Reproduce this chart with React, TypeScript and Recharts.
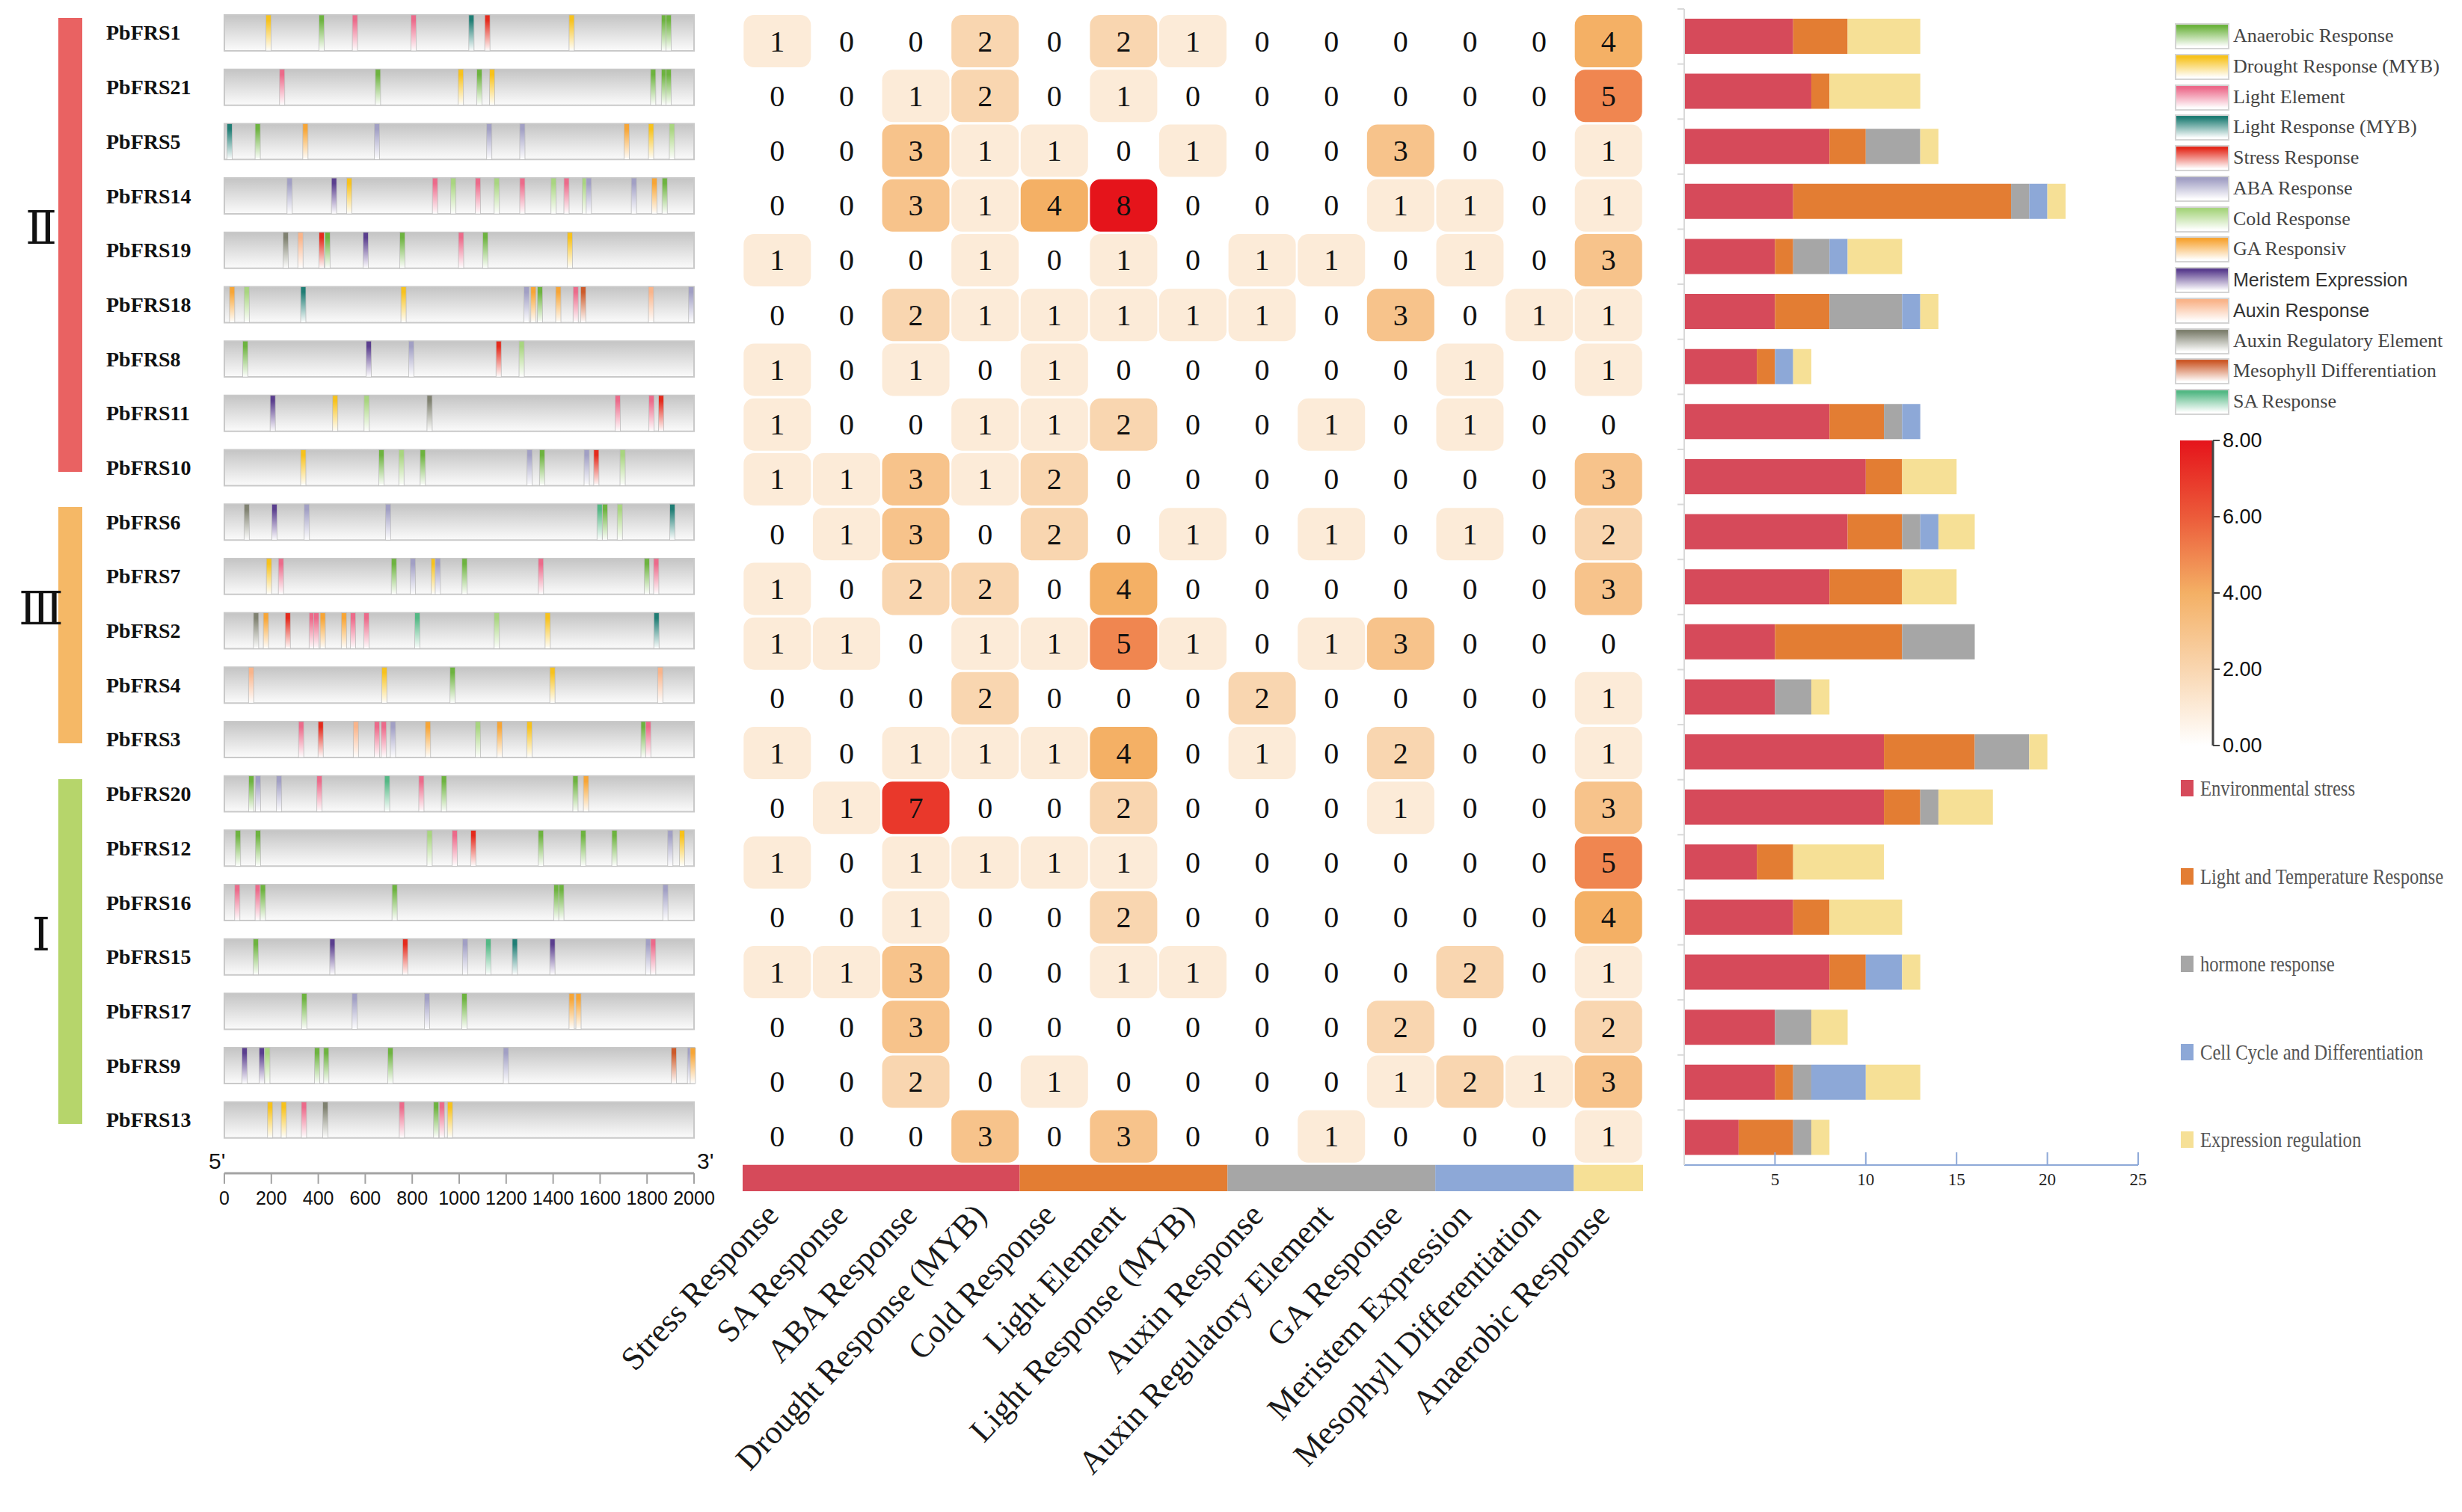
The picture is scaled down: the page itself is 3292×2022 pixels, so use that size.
import React from 'react';
import { ScatterChart, Scatter, XAxis, YAxis, ReferenceArea, BarChart, Bar } from 'recharts';

// gene order, top to bottom
const genes = [
  'PbFRS1', 'PbFRS21', 'PbFRS5', 'PbFRS14', 'PbFRS19', 'PbFRS18', 'PbFRS8', 'PbFRS11', 'PbFRS10',
  'PbFRS6', 'PbFRS7', 'PbFRS2', 'PbFRS4', 'PbFRS3',
  'PbFRS20', 'PbFRS12', 'PbFRS16', 'PbFRS15', 'PbFRS17', 'PbFRS9', 'PbFRS13',
];

const subfamilies = [
  { label: 'Ⅱ', first: 0, last: 8, color: '#e96262' },
  { label: 'Ⅲ', first: 9, last: 13, color: '#f5b866' },
  { label: 'Ⅰ', first: 14, last: 20, color: '#b6d56b' },
];

// promoter element types (legend order)
const elementTypes = [
  { code: 'AN', name: 'Anaerobic Response', color: '#6db33f' },
  { code: 'DR', name: 'Drought Response (MYB)', color: '#f7c21c' },
  { code: 'LE', name: 'Light Element', color: '#ec6a8a' },
  { code: 'LM', name: 'Light Response (MYB)', color: '#1f7d74' },
  { code: 'ST', name: 'Stress Response', color: '#e42a1c' },
  { code: 'ABA', name: 'ABA Response', color: '#a19fc4' },
  { code: 'CO', name: 'Cold Response', color: '#a8d57f' },
  { code: 'GA', name: 'GA Responsiv', color: '#f7a535' },
  { code: 'ME', name: 'Meristem Expression', color: '#5a3e8e', sans: true },
  { code: 'AX', name: 'Auxin Response', color: '#f9b48a', sans: true },
  { code: 'AR', name: 'Auxin Regulatory Element', color: '#7f8170' },
  { code: 'MD', name: 'Mesophyll Differentiation', color: '#cc5a2a' },
  { code: 'SA', name: 'SA Response', color: '#53b884' },
];

// element sites per gene: [type, position in bp]
const promoterSites: [string, number][][] = [
  [['DR', 188], ['AN', 414], ['LE', 556], ['LE', 806], ['LM', 1052], ['ST', 1120], ['DR', 1479], ['AN', 1872], ['AN', 1892]],
  [['LE', 246], ['AN', 654], ['DR', 1007], ['AN', 1086], ['DR', 1140], ['AN', 1826], ['AN', 1872], ['AN', 1892]],
  [['LM', 22], ['AN', 142], ['GA', 345], ['ABA', 650], ['ABA', 1128], ['ABA', 1269], ['GA', 1713], ['DR', 1817], ['CO', 1906]],
  [['ABA', 278], ['ME', 467], ['DR', 532], ['LE', 897], ['CO', 975], ['LE', 1080], ['CO', 1160], ['LE', 1269], ['CO', 1402], ['LE', 1457], ['CO', 1535], ['ABA', 1552], ['ABA', 1744], ['GA', 1831], ['AN', 1875]],
  [['AR', 261], ['AX', 324], ['ST', 414], ['AN', 439], ['ME', 602], ['AN', 758], ['LE', 1008], ['AN', 1111], ['DR', 1471]],
  [['GA', 33], ['CO', 95], ['LM', 336], ['DR', 763], ['ABA', 1287], ['GA', 1316], ['AN', 1344], ['GA', 1422], ['LE', 1496], ['MD', 1528], ['AX', 1817], ['ABA', 1988]],
  [['AN', 89], ['ME', 615], ['ABA', 796], ['ST', 1168], ['CO', 1266]],
  [['ME', 206], ['DR', 472], ['CO', 606], ['AR', 874], ['LE', 1675], ['LE', 1819], ['ST', 1860]],
  [['DR', 336], ['AN', 669], ['CO', 754], ['AN', 845], ['ABA', 1300], ['AN', 1353], ['ABA', 1543], ['ST', 1584], ['CO', 1696]],
  [['AR', 95], ['ME', 213], ['ABA', 351], ['ABA', 697], ['SA', 1598], ['AN', 1621], ['CO', 1684], ['LM', 1908]],
  [['DR', 190], ['LE', 241], ['AN', 722], ['ABA', 803], ['DR', 892], ['ABA', 909], ['AN', 1023], ['LE', 1348], ['AN', 1799], ['LE', 1839]],
  [['AR', 135], ['GA', 177], ['ST', 270], ['LE', 372], ['LE', 392], ['GA', 419], ['GA', 509], ['LE', 548], ['LE', 605], ['SA', 822], ['CO', 1160], ['DR', 1377], ['LM', 1840]],
  [['AX', 114], ['DR', 681], ['AN', 972], ['DR', 1397], ['AX', 1856]],
  [['LE', 327], ['ST', 410], ['AX', 560], ['LE', 650], ['LE', 679], ['ABA', 718], ['GA', 867], ['CO', 1080], ['GA', 1172], ['DR', 1299], ['AN', 1785], ['LE', 1805]],
  [['AN', 115], ['ABA', 143], ['ABA', 233], ['LE', 405], ['SA', 693], ['LE', 839], ['AN', 935], ['AN', 1495], ['GA', 1540]],
  [['AN', 58], ['AN', 143], ['CO', 874], ['LE', 981], ['ST', 1060], ['AN', 1348], ['AN', 1528], ['AN', 1661], ['ABA', 1899], ['DR', 1949]],
  [['LE', 55], ['LE', 142], ['AN', 164], ['AN', 725], ['AN', 1414], ['AN', 1435], ['ABA', 1878]],
  [['AN', 134], ['ME', 460], ['ST', 770], ['ABA', 1025], ['SA', 1124], ['LM', 1237], ['ME', 1397], ['ABA', 1805], ['LE', 1826]],
  [['AN', 340], ['ABA', 555], ['ABA', 863], ['AN', 1022], ['GA', 1479], ['GA', 1508]],
  [['ME', 86], ['ME', 159], ['CO', 183], ['AN', 395], ['AN', 434], ['AN', 707], ['ABA', 1199], ['MD', 1914], ['ABA', 1983], ['GA', 1995]],
  [['DR', 195], ['DR', 253], ['LE', 339], ['AR', 430], ['LE', 756], ['AN', 902], ['LE', 926], ['DR', 961]],
];

const bpTicks = [0, 200, 400, 600, 800, 1000, 1200, 1400, 1600, 1800, 2000];

// heatmap columns
const elementColumns = [
  'Stress Response', 'SA Response', 'ABA Response', 'Drought Response (MYB)', 'Cold Response',
  'Light Element', 'Light Response (MYB)', 'Auxin Response', 'Auxin Regulatory Element',
  'GA Response', 'Meristem Expression', 'Mesophyll Differentiation', 'Anaerobic Response',
];

const cisCounts = [
  [1, 0, 0, 2, 0, 2, 1, 0, 0, 0, 0, 0, 4],
  [0, 0, 1, 2, 0, 1, 0, 0, 0, 0, 0, 0, 5],
  [0, 0, 3, 1, 1, 0, 1, 0, 0, 3, 0, 0, 1],
  [0, 0, 3, 1, 4, 8, 0, 0, 0, 1, 1, 0, 1],
  [1, 0, 0, 1, 0, 1, 0, 1, 1, 0, 1, 0, 3],
  [0, 0, 2, 1, 1, 1, 1, 1, 0, 3, 0, 1, 1],
  [1, 0, 1, 0, 1, 0, 0, 0, 0, 0, 1, 0, 1],
  [1, 0, 0, 1, 1, 2, 0, 0, 1, 0, 1, 0, 0],
  [1, 1, 3, 1, 2, 0, 0, 0, 0, 0, 0, 0, 3],
  [0, 1, 3, 0, 2, 0, 1, 0, 1, 0, 1, 0, 2],
  [1, 0, 2, 2, 0, 4, 0, 0, 0, 0, 0, 0, 3],
  [1, 1, 0, 1, 1, 5, 1, 0, 1, 3, 0, 0, 0],
  [0, 0, 0, 2, 0, 0, 0, 2, 0, 0, 0, 0, 1],
  [1, 0, 1, 1, 1, 4, 0, 1, 0, 2, 0, 0, 1],
  [0, 1, 7, 0, 0, 2, 0, 0, 0, 1, 0, 0, 3],
  [1, 0, 1, 1, 1, 1, 0, 0, 0, 0, 0, 0, 5],
  [0, 0, 1, 0, 0, 2, 0, 0, 0, 0, 0, 0, 4],
  [1, 1, 3, 0, 0, 1, 1, 0, 0, 0, 2, 0, 1],
  [0, 0, 3, 0, 0, 0, 0, 0, 0, 2, 0, 0, 2],
  [0, 0, 2, 0, 1, 0, 0, 0, 0, 1, 2, 1, 3],
  [0, 0, 0, 3, 0, 3, 0, 0, 1, 0, 0, 0, 1],
];

// functional categories
const categoryNames = ['Environmental stress', 'Light and Temperature Response', 'hormone response', 'Cell Cycle and Differentiation', 'Expression regulation'];
const categoryColors = ['#d64a5a', '#e37d33', '#a6a6a6', '#8da8d7', '#f6e096'];
const categoryColumnSpans = [4, 3, 3, 2, 1];

const envStress = [6, 7, 8, 6, 5, 5, 4, 8, 10, 9, 8, 5, 5, 11, 11, 4, 6, 8, 5, 5, 3];
const lightTemp = [3, 1, 2, 12, 1, 3, 1, 3, 2, 3, 4, 7, 0, 5, 2, 2, 2, 2, 0, 1, 3];
const hormone = [0, 0, 3, 1, 2, 4, 0, 1, 0, 1, 0, 4, 2, 3, 1, 0, 0, 0, 2, 1, 1];
const cellCycle = [0, 0, 0, 1, 1, 1, 1, 1, 0, 1, 0, 0, 0, 0, 0, 0, 0, 2, 0, 3, 0];
const exprReg = [4, 5, 1, 1, 3, 1, 1, 0, 3, 2, 3, 0, 1, 1, 3, 5, 4, 1, 2, 3, 1];
const countTicks = [5, 10, 15, 20, 25];

const scaleLabels = ['8.00', '6.00', '4.00', '2.00', '0.00'];

const SERIF = "'Liberation Serif', 'Times New Roman', serif";
const SANS = "'Liberation Sans', Arial, sans-serif";

const heatStops: [number, number[]][] = [
  [0, [255, 255, 255]], [2, [249, 214, 176]], [4, [244, 176, 101]], [6, [236, 91, 58]], [8, [229, 20, 27]],
];
const heatColor = (v: number) => {
  for (let i = 1; i < heatStops.length; i++) {
    const [v1, c1] = heatStops[i];
    const [v0, c0] = heatStops[i - 1];
    if (v <= v1) {
      const t = (v - v0) / (v1 - v0);
      const c = c0.map((a, k) => Math.round(a + (c1[k] - a) * t));
      return `rgb(${c[0]},${c[1]},${c[2]})`;
    }
  }
  return 'rgb(229,20,27)';
};

// layout of the gene rows
const G_ROW0 = 44;
const G_PITCH = 72.7;

const siteData = promoterSites.flatMap((sites, row) => sites.map(([code, pos]) => ({ code, pos, row })));
const cellData = cisCounts.flatMap((vals, row) => vals.map((v, col) => ({ col, row, v })));
const barData = genes.map((gene, i) => ({
  gene, env: envStress[i], light: lightTemp[i], hormone: hormone[i], cell: cellCycle[i], expr: exprReg[i],
}));
const categoryStarts = categoryColumnSpans.map((_, i) => categoryColumnSpans.slice(0, i).reduce((a, b) => a + b, 0));

const SiteMark = (props: any) => {
  const { cx, cy, payload } = props;
  return (
    <rect x={cx - 3.5} y={cy - 24} width={7} height={48} fill={`url(#el-${payload.code})`} stroke="#bdbdbd" strokeWidth={0.8} />
  );
};

const GeneTick = (props: any) => (
  <text x={142} y={props.y} dominantBaseline="central" fontFamily={SERIF} fontWeight="bold" fontSize={28} fill="#111">
    {genes[props.payload.value]}
  </text>
);

const HeatCell = (props: any) => {
  const { cx, cy, payload } = props;
  return (
    <g>
      {payload.v > 0 && <rect x={cx - 45} y={cy - 35} width={90} height={70} rx={14} fill={heatColor(payload.v)} />}
      <text x={cx} y={cy} textAnchor="middle" dominantBaseline="central" fontFamily={SERIF} fontSize={40} fill="#111">
        {payload.v}
      </text>
    </g>
  );
};

const ColumnTick = (props: any) => {
  const { x, y, payload } = props;
  const ax = x + 4;
  const ay = y + 34;
  return (
    <text x={ax} y={ay} transform={`rotate(-47 ${ax} ${ay})`} textAnchor="end" fontFamily={SERIF} fontSize={44} fill="#1a1a1a">
      {elementColumns[payload.value]}
    </text>
  );
};

const CountTick = (props: any) => {
  const { x, y, payload } = props;
  return (
    <g>
      <line x1={x} x2={x} y1={y - 17} y2={y} stroke="#8ea9d8" strokeWidth={2} />
      <text x={x} y={y + 27} textAnchor="middle" fontFamily={SERIF} fontSize={23} fill="#222">{payload.value}</text>
    </g>
  );
};

const BandTick = (props: any) => {
  const { x, y } = props;
  return <line x1={x - 9} x2={x} y1={y - 36.8} y2={y - 36.8} stroke="#d9d9d9" strokeWidth={2} />;
};

export default function App() {
  return (
    <div style={{ position: 'relative', width: 3292, height: 2022, background: '#fff', overflow: 'hidden' }}>
      <style>{'body{margin:0}'}</style>

      {/* subfamily bars */}
      {subfamilies.map((g) => {
        const top = G_ROW0 + g.first * G_PITCH - 20;
        const bottom = G_ROW0 + g.last * G_PITCH + 5;
        return (
          <React.Fragment key={g.label}>
            <div style={{ position: 'absolute', left: 78, top, width: 32, height: bottom - top, background: g.color }} />
            <div style={{
              position: 'absolute', left: 0, width: 110, top: (top + bottom) / 2 - 62, textAlign: 'center',
              fontFamily: "'DejaVu Serif', serif", fontSize: 62, lineHeight: '80px', color: '#111',
            }}>
              {g.label}
            </div>
          </React.Fragment>
        );
      })}

      {/* promoter diagrams */}
      <div style={{ position: 'absolute', left: 0, top: 0 }}>
        <ScatterChart width={1000} height={1700} margin={{ top: 7.65, right: 72, bottom: 71, left: 140 }}>
          <defs>
            <linearGradient id="geneBar" x1="0" y1="0" x2="0" y2="1">
              <stop offset="0%" stopColor="#c4c4c4" />
              <stop offset="100%" stopColor="#fbfbfb" />
            </linearGradient>
            {elementTypes.map((t) => (
              <linearGradient key={t.code} id={`el-${t.code}`} x1="0" y1="0" x2="0" y2="1">
                <stop offset="0%" stopColor={t.color} />
                <stop offset="15%" stopColor={t.color} />
                <stop offset="100%" stopColor="#ffffff" />
              </linearGradient>
            ))}
          </defs>
          <XAxis
            type="number" dataKey="pos" domain={[0, 2000]} ticks={bpTicks} interval={0} height={60}
            tickSize={14} tickMargin={10}
            axisLine={{ stroke: '#a3a3a3', strokeWidth: 3 }} tickLine={{ stroke: '#a3a3a3', strokeWidth: 2 }}
            tick={{ fontFamily: SANS, fontSize: 25, fill: '#111' }}
          />
          <YAxis
            type="number" dataKey="row" domain={[-0.5, 20.98]} reversed allowDataOverflow width={160}
            ticks={genes.map((_, i) => i)} interval={0} axisLine={false} tickLine={false} tick={<GeneTick />}
          />
          {genes.map((g, i) => (
            <ReferenceArea key={g} x1={0} x2={2000} y1={i - 0.33} y2={i + 0.33} fill="url(#geneBar)" fillOpacity={1} stroke="#c9c9c9" strokeWidth={2} />
          ))}
          <Scatter data={siteData} shape={<SiteMark />} isAnimationActive={false} />
        </ScatterChart>
      </div>
      <div style={{ position: 'absolute', left: 279, top: 1536, fontFamily: SANS, fontSize: 30, color: '#111' }}>5'</div>
      <div style={{ position: 'absolute', left: 932, top: 1536, fontFamily: SANS, fontSize: 30, color: '#111' }}>3'</div>

      {/* heatmap of element counts */}
      <div style={{ position: 'absolute', left: 700, top: 0 }}>
        <ScatterChart width={1600} height={2022} margin={{ top: 18.4, right: 103, bottom: 29, left: 293 }}>
          <XAxis
            type="number" dataKey="col" domain={[-0.5, 12.5]} ticks={elementColumns.map((_, i) => i)} interval={0}
            height={400} tickSize={0} tickMargin={0} axisLine={false} tickLine={false} tick={<ColumnTick />}
          />
          <YAxis type="number" dataKey="row" domain={[-0.5, 21]} reversed hide allowDataOverflow />
          {categoryNames.map((n, i) => (
            <ReferenceArea
              key={n} x1={categoryStarts[i] - 0.5} x2={categoryStarts[i] + categoryColumnSpans[i] - 0.5}
              y1={20.52} y2={21} fill={categoryColors[i]} fillOpacity={1} stroke="none" ifOverflow="visible"
            />
          ))}
          <Scatter data={cellData} shape={<HeatCell />} isAnimationActive={false} />
        </ScatterChart>
      </div>

      {/* stacked category counts */}
      <div style={{ position: 'absolute', left: 2150, top: 0 }}>
        <BarChart width={760} height={1650} data={barData} layout="vertical" margin={{ top: 12, right: 51, bottom: 42, left: 82 }} barSize={47}>
          <XAxis
            type="number" domain={[0, 25]} ticks={countTicks} interval={0} height={50} tickSize={0} tickMargin={0}
            axisLine={{ stroke: '#8ea9d8', strokeWidth: 2 }} tickLine={false} tick={<CountTick />}
          />
          <YAxis
            type="category" dataKey="gene" width={20} tickSize={0} tickMargin={0}
            axisLine={{ stroke: '#d9d9d9', strokeWidth: 2 }} tickLine={false} tick={<BandTick />}
          />
          <Bar dataKey="env" stackId="a" fill={categoryColors[0]} isAnimationActive={false} />
          <Bar dataKey="light" stackId="a" fill={categoryColors[1]} isAnimationActive={false} />
          <Bar dataKey="hormone" stackId="a" fill={categoryColors[2]} isAnimationActive={false} />
          <Bar dataKey="cell" stackId="a" fill={categoryColors[3]} isAnimationActive={false} />
          <Bar dataKey="expr" stackId="a" fill={categoryColors[4]} isAnimationActive={false} />
        </BarChart>
      </div>

      {/* element legend */}
      {elementTypes.map((t, i) => {
        const cy = 48 + i * 40.75;
        return (
          <React.Fragment key={t.code}>
            <div style={{
              position: 'absolute', left: 2908, top: cy - 17, width: 69, height: 31,
              border: '2px solid #d4d4d4', background: `linear-gradient(to bottom, ${t.color} 0%, ${t.color} 8%, #ffffff 95%)`,
            }} />
            <div style={{
              position: 'absolute', left: 2986, top: cy - 17, height: 34, lineHeight: '34px', whiteSpace: 'nowrap',
              fontFamily: t.sans ? SANS : SERIF, fontSize: t.sans ? 25 : 26, color: t.sans ? '#333' : '#444',
            }}>
              {t.name}
            </div>
          </React.Fragment>
        );
      })}

      {/* colour scale */}
      <div style={{
        position: 'absolute', left: 2915, top: 589, width: 43, height: 408,
        background: 'linear-gradient(to top, #ffffff 0%, #f9d6b0 25%, #f4b065 50%, #ec5b3a 75%, #e5141b 100%)',
      }} />
      <svg style={{ position: 'absolute', left: 2950, top: 570 }} width={120} height={450}>
        <line x1={9} x2={9} y1={19} y2={427} stroke="#444" strokeWidth={3} />
        {scaleLabels.map((s, i) => (
          <g key={s}>
            <line x1={9} x2={18} y1={19 + i * 102} y2={19 + i * 102} stroke="#444" strokeWidth={2} />
            <text x={22} y={19 + i * 102} dominantBaseline="central" fontFamily={SANS} fontSize={27} fill="#111">{s}</text>
          </g>
        ))}
      </svg>

      {/* category legend */}
      {categoryNames.map((n, i) => {
        const cy = 1054 + i * 117.5;
        return (
          <React.Fragment key={n}>
            <div style={{ position: 'absolute', left: 2916, top: cy - 11, width: 17, height: 22, background: categoryColors[i] }} />
            <div style={{
              position: 'absolute', left: 2942, top: cy - 20, lineHeight: '40px', whiteSpace: 'nowrap',
              fontFamily: SERIF, fontSize: 30, color: '#555', transform: 'scaleX(0.82)', transformOrigin: 'left center',
            }}>
              {n}
            </div>
          </React.Fragment>
        );
      })}
    </div>
  );
}
